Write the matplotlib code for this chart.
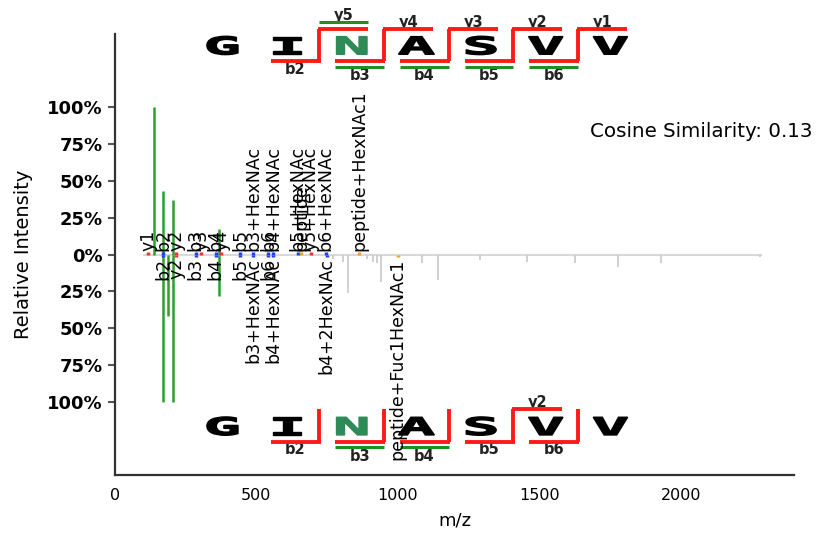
import numpy as np
import matplotlib.pyplot as plt
from matplotlib.textpath import TextPath
from matplotlib.patches import PathPatch
from matplotlib.font_manager import FontProperties
from matplotlib.transforms import Affine2D

# ---- spectrum data (m/z, relative intensity) ----
# large matched peaks (oxonium ions)
top_green_mz = [138.1, 168.1, 204.1, 366.1]
top_green_int = [1.0, 0.43, 0.37, 0.175]
bot_green_mz = [168.1, 186.1, 204.1, 366.1]
bot_green_int = [1.0, 0.42, 1.0, 0.28]

# unannotated peaks in the lower spectrum
bot_grey_mz = [770, 806, 823, 890, 912, 926, 942, 1084, 1141, 1290, 1455, 1625, 1778, 1929, 2280]
bot_grey_int = [0.03, 0.05, 0.26, 0.03, 0.05, 0.06, 0.19, 0.06, 0.175, 0.04, 0.05, 0.06, 0.085, 0.06, 0.02]

# annotated fragment peaks (tiny)
top_ann_mz = [118.09, 171.11, 217.15, 285.16, 304.19, 356.19, 375.22, 443.22, 488.24,
              542.29, 559.27, 646.30, 659.37, 692.34, 745.37, 862.45]
top_ann_lab = ['y1', 'b2', 'y2', 'b3', 'y3', 'b4', 'y4', 'b5', 'b3+HexNAc',
               'b6', 'b4+HexNAc', 'b5+HexNAc', 'peptide', 'y5+HexNAc', 'b6+HexNAc', 'peptide+HexNAc1']
bot_ann_mz = [171.11, 217.15, 285.16, 356.19, 443.22, 488.24, 542.29, 559.27, 748.0, 1000.0]
bot_ann_lab = ['b2', 'y2', 'b3', 'b4', 'b5', 'b3+HexNAc', 'b6', 'b4+HexNAc',
               'b4+2HexNAc', 'peptide+Fuc1HexNAc1']
ann_int = 0.015

baseline_mz = [100, 2286]

# ---- peptide sequence annotation ----
sequence = "GINASVV"
glyco_site = 2
top_b = [2, 3, 4, 5, 6]
top_y = [1, 2, 3, 4, 5]
top_b_glyco = [3, 4, 5, 6]
top_y_glyco = [5]
bot_b = [2, 3, 4, 5, 6]
bot_y = [2]
bot_b_glyco = [3, 4]
bot_y_glyco = []

cosine = 0.13

RED = '#ff1a1a'
GREEN = '#2ca02c'
SEQ_GREEN = '#1f8f2a'
GREY = '#c8c8c8'


def ion_colour(label):
    if label.startswith('b'):
        return '#1f3fff'
    if label.startswith('y'):
        return '#ff3030'
    return '#f0a020'


def draw_letters(ax, y_center, seq_x, height):
    prop = FontProperties(family='DejaVu Sans Mono', weight='bold')
    ref = TextPath((0, 0), 'G', size=1, prop=prop).get_extents()
    kx = 110.0 / ref.width
    ky = height / ref.height
    for i, aa in enumerate(sequence):
        tp = TextPath((0, 0), aa, size=1, prop=prop)
        ext = tp.get_extents()
        cx = ext.x0 + ext.width / 2
        cy = ext.y0 + ext.height / 2
        tr = Affine2D().translate(-cx, -cy).scale(kx, ky).translate(seq_x[i], y_center)
        col = '#2e8b57' if i == glyco_site else 'black'
        ax.add_patch(PathPatch(tr.transform_path(tp), facecolor=col, edgecolor=col,
                               lw=1.0, clip_on=False, zorder=5))


def draw_sequence(ax, top, b_ions, y_ions, b_glyco, y_glyco):
    n = len(sequence)
    start, step = 380.0, 228.6
    seq_x = [start + i * step for i in range(n)]
    w = 173.0
    if top:
        y_let, y_line, b_line, g_top, g_bot = 1.421, 1.534, 1.315, 1.582, 1.274
        ylab, ylab_g, blab, blab_g = 1.58, 1.626, 1.257, 1.22
    else:
        y_let, y_line, b_line, g_top, g_bot = -1.166, -1.053, -1.272, -1.02, -1.306
        ylab, ylab_g, blab, blab_g = -1.003, -0.97, -1.326, -1.372
    draw_letters(ax, y_let, seq_x, 0.125)
    kw = dict(clip_on=False, zorder=4, solid_capstyle='butt')
    for k in range(1, n):
        xc = start + (k - 0.5) * step
        yk = n - k
        has_b = k in b_ions
        has_y = yk in y_ions
        if has_b or has_y:
            ax.plot([xc, xc], [b_line, y_line], color=RED, lw=2.8, **kw)
        if has_b:
            ax.plot([xc - w, xc + 4], [b_line, b_line], color=RED, lw=2.8, **kw)
            yl = blab
            if k in b_glyco:
                ax.plot([xc - w, xc], [g_bot, g_bot], color=SEQ_GREEN, lw=2.2, **kw)
                yl = blab_g
            ax.text(xc - w / 2, yl, 'b%d' % k, ha='center', va='center', fontsize=10.5,
                    fontweight='bold', color='#222222', clip_on=False)
        if has_y:
            ax.plot([xc - 4, xc + w], [y_line, y_line], color=RED, lw=2.8, **kw)
            yl = ylab
            if yk in y_glyco:
                ax.plot([xc, xc + w], [g_top, g_top], color=SEQ_GREEN, lw=2.2, **kw)
                yl = ylab_g
            ax.text(xc + w / 2, yl, 'y%d' % yk, ha='center', va='center', fontsize=10.5,
                    fontweight='bold', color='#222222', clip_on=False)


fig = plt.figure(figsize=(8.33, 5.37), dpi=100)
ax = fig.add_axes([0.138, 0.115, 0.815, 0.822])

ax.hlines(0, baseline_mz[0], baseline_mz[1], color='#d9d9d9', lw=1.5, zorder=1)
ax.vlines(bot_grey_mz, 0, -np.array(bot_grey_int), color=GREY, lw=1.2, zorder=2)
ax.vlines(top_green_mz, 0, top_green_int, color=GREEN, lw=1.8, zorder=3)
ax.vlines(bot_green_mz, 0, -np.array(bot_green_int), color=GREEN, lw=1.8, zorder=3)

for mz, lab in zip(top_ann_mz, top_ann_lab):
    ax.vlines(mz, 0, ann_int, color=ion_colour(lab), lw=2.5, zorder=3)
    ax.text(mz, ann_int + 0.01, lab, rotation=90, ha='center', va='bottom', fontsize=12.5)
for mz, lab in zip(bot_ann_mz, bot_ann_lab):
    ax.vlines(mz, 0, -ann_int, color=ion_colour(lab), lw=2.5, zorder=3)
    ax.text(mz, -ann_int - 0.01, lab, rotation=90, ha='center', va='top', fontsize=12.5, zorder=6)

draw_sequence(ax, True, top_b, top_y, top_b_glyco, top_y_glyco)
draw_sequence(ax, False, bot_b, bot_y, bot_b_glyco, bot_y_glyco)

ax.text(0.70, 0.778, 'Cosine Similarity: %.2f' % cosine, transform=ax.transAxes,
        ha='left', va='center', fontsize=14.3)

ax.set_xlim(0, 2400)
ax.set_ylim(-1.5, 1.5)
yt = np.arange(-1.0, 1.01, 0.25)
ax.set_yticks(yt)
ax.set_yticklabels(['%d%%' % round(abs(v) * 100) for v in yt], fontsize=13, fontweight='bold')
ax.set_xticks([0, 500, 1000, 1500, 2000])
ax.tick_params(axis='x', length=0, labelsize=11.5, pad=9)
ax.tick_params(axis='y', length=5, width=1.5, color='#555555', pad=4)
ax.set_xlabel('m/z', fontsize=13, labelpad=6)
ax.set_ylabel('Relative Intensity', fontsize=14, labelpad=10)
for s in ['top', 'right']:
    ax.spines[s].set_visible(False)
for s in ['left', 'bottom']:
    ax.spines[s].set_linewidth(1.6)
    ax.spines[s].set_color('#333333')

fig.savefig('out.png', dpi=100)
